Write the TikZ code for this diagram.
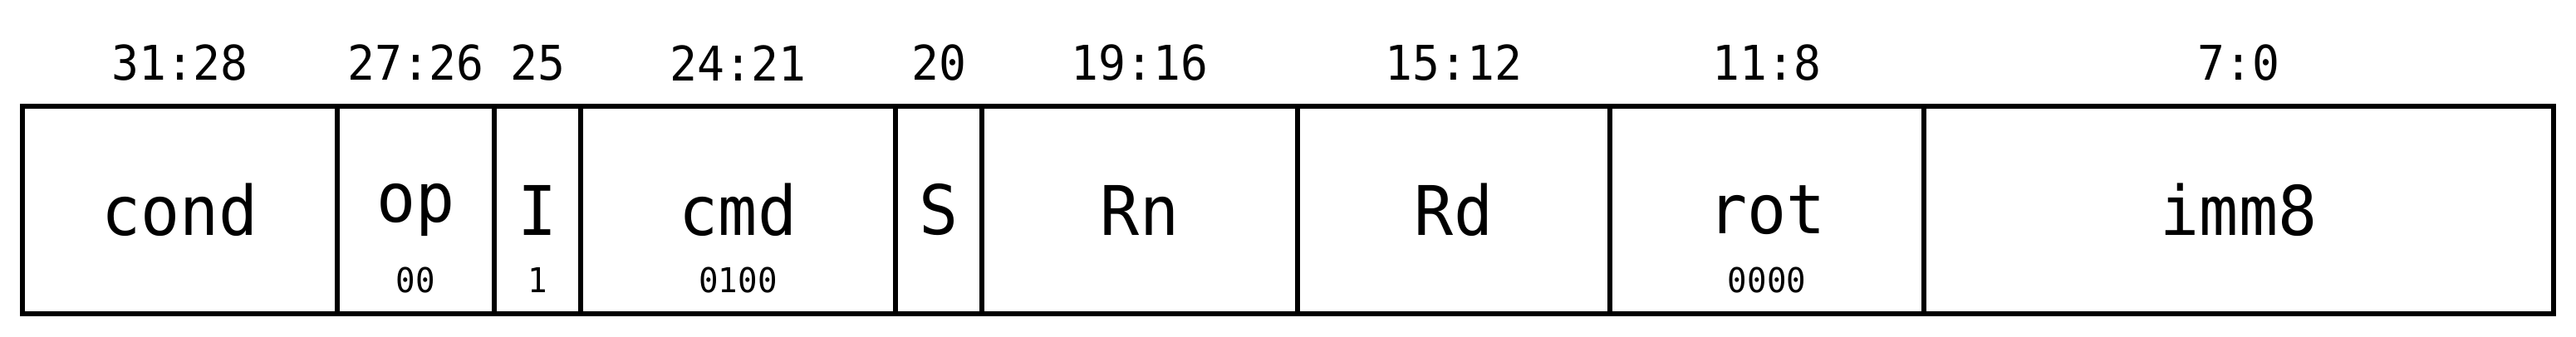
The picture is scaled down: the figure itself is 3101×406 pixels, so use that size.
\documentclass[tikz,border=0pt]{standalone}
\usepackage{fontspec}
\setmonofont[FakeStretch=0.95]{DejaVu Sans Mono}
\begin{document}
\begin{tikzpicture}[x=0.25pt,y=-0.25pt,
  field/.style={draw,line width=1.3pt,inner sep=0pt,minimum height=62.5pt},
  mainlbl/.style={font=\ttfamily\fontsize{20.6}{24}\selectfont,inner sep=0pt},
  bitlbl/.style={font=\ttfamily\fontsize{14.4}{16}\selectfont,inner sep=0pt},
  vallbl/.style={font=\ttfamily\fontsize{10.3}{12}\selectfont,inner sep=0pt}]
\useasboundingbox (0,0) rectangle (3101,406);
\newcommand\bitfield[6]{%
  \pgfmathsetmacro\fw{(#3-#2)*0.25}%
  \pgfmathsetmacro\fc{(#2+#3)/2}%
  \node[field,minimum width=\fw pt] (#1) at (\fc,253) {};
  \node[mainlbl] (#1-name) at (#1.center) {#4};
  \node[bitlbl] (#1-bits) at (\fc,76) {#5};
  \node[vallbl] (#1-val) at (\fc,337) {#6};
}
\bitfield{cond}{27}{406}{cond}{31:28}{}
\bitfield{op}{406}{595}{op}{27:26}{00}
\bitfield{i}{595}{699}{I}{25}{1}
\bitfield{cmd}{699}{1078}{cmd}{24:21}{0100}
\bitfield{s}{1078}{1182}{S}{20}{}
\bitfield{rn}{1182}{1562}{Rn}{19:16}{}
\bitfield{rd}{1562}{1938}{Rd}{15:12}{}
\bitfield{rot}{1938}{2316}{rot}{11:8}{0000}
\bitfield{imm}{2316}{3074}{imm8}{7:0}{}
\end{tikzpicture}
\end{document}
